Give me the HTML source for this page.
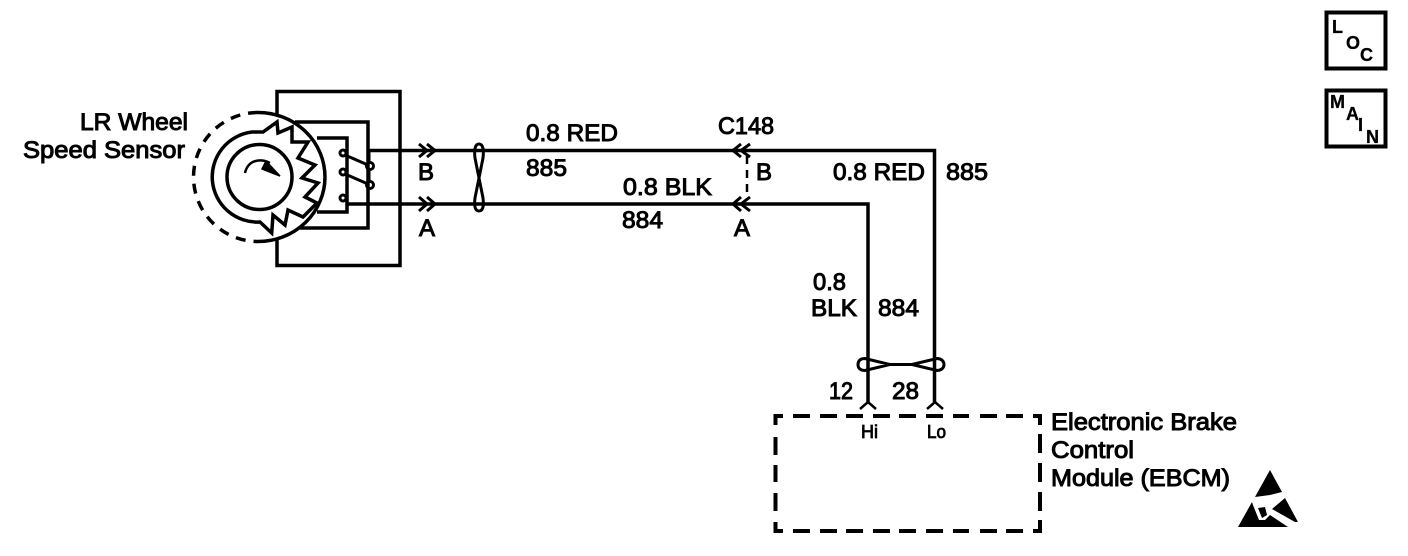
<!DOCTYPE html>
<html><head><meta charset="utf-8"><style>
html,body{margin:0;padding:0;background:#fff}
svg{display:block}
text{font-family:"Liberation Sans",sans-serif;font-size:24px;fill:#000;stroke:#000;stroke-width:1px}
.s{font-size:18px;stroke-width:.8px}
.n{font-size:18px;font-weight:bold;stroke-width:.3px}
</style></head><body>
<svg xmlns="http://www.w3.org/2000/svg" width="1408" height="556" viewBox="0 0 1408 556">
<g fill="none" stroke="#000" stroke-width="3.500">
<!-- sensor housing -->
<path d="M277 115V91.500H400V265.500H277V240"/>
<path d="M295 122H368V228H300"/>
<path d="M317 138H347V212H317"/>
<!-- circles -->
<path d="M258 112.500A67 64.500 0 0 1 258 241.500"/>
<path d="M258 112.500A64.500 64.500 0 0 0 258 241.500" stroke-dasharray="10 8"/>
<circle cx="259.500" cy="177" r="32.500"/>
<path d="M252 132A45.200 45.200 0 0 0 260 222L271.700 233L273 215L285 225L288 210L303 217L317 203L305 197L318 183L302 178L315 165L298 158L308 142L292 142L292 127L278 133L277 122L263 132Z"/>
<path d="M245 173C248 160 260 158 270 163" stroke-width="2.500"/>
<path d="M266 161L280 176L262 169Z" fill="#000" stroke-width="1.500"/>
<!-- coil -->
<circle cx="343" cy="153" r="3" stroke-width="3"/>
<circle cx="343" cy="172" r="3" stroke-width="3"/>
<circle cx="343" cy="198" r="3" stroke-width="3"/>
<circle cx="370" cy="166" r="3.500" stroke-width="3"/>
<circle cx="370" cy="185" r="3.500" stroke-width="3"/>
<path d="M345 155L368 165M345 174L368 184" stroke-width="3"/>
<path d="M369 150V162M369 170V181" stroke-width="3"/>
<!-- wires -->
<path d="M368 150.500H934.500V402" stroke-width="3.500"/>
<path d="M347 204H868V402" stroke-width="3.500"/>
<path d="M747 156V200" stroke-width="2.500" stroke-dasharray="8 6"/>
<!-- connector chevrons -->
<path d="M419 144L427 150.500L419 157M427 144L435 150.500L427 157" stroke-width="3"/>
<path d="M419 197L427 204L419 211M427 197L435 204L427 211" stroke-width="3"/>
<path d="M741 144L733 150.500L741 157M750 144L741 150.500L750 157" stroke-width="3"/>
<path d="M741 197L733 204L741 211M750 197L741 204L750 211" stroke-width="3"/>
<!-- twists -->
<path d="M479 144C475 144 474 150 475 158L479 178L475 198C474 206 475 211 479 211C483 211 484 206 483 198L479 178L483 158C484 150 483 144 479 144Z" stroke-width="3"/>
<path d="M865 358.500C860 358.500 858 361 858 364.500C858 368 860 370.500 865 370.500L890 364.500L912 364.500L937 370.500C941 370.500 944 368 944 364.500C944 361 941 358.500 937 358.500L912 364.500L890 364.500Z" stroke-width="3"/>
<!-- pin forks -->
<path d="M860 409L868 402L876 409M927 409L935 402L943 409" stroke-width="2.500"/>
<!-- EBCM dashed -->
<g stroke-width="4">
<path d="M783 416H775.500V425M775.500 437V455M775.500 465V482M775.500 493V511M775.500 522V531H783"/>
<path d="M1033 416H1040V425M1040 434V453M1040 463V482M1040 492V511M1040 520V531H1033"/>
<path d="M793 416H810M820 416H837M846 416H863M873 416H890M899 416H916M926 416H943M953 416H969M980 416H997M1006 416H1023"/>
<path d="M793 531H810M820 531H837M846 531H863M873 531H890M899 531H916M926 531H943M953 531H969M980 531H997M1006 531H1023"/>
</g>
<!-- icons -->
<rect x="1326.500" y="12.500" width="59" height="56" stroke-width="4"/>
<rect x="1326.500" y="90.500" width="59" height="56" stroke-width="4"/>
</g>
<text x="80" y="130" textLength="108" lengthAdjust="spacingAndGlyphs">LR Wheel</text>
<text x="23" y="158" textLength="162" lengthAdjust="spacingAndGlyphs">Speed Sensor</text>
<text x="418" y="180">B</text>
<text x="419" y="236">A</text>
<text x="526" y="141" textLength="92" lengthAdjust="spacingAndGlyphs">0.8 RED</text>
<text x="526" y="176" textLength="41" lengthAdjust="spacingAndGlyphs">885</text>
<text x="718" y="134" textLength="56" lengthAdjust="spacingAndGlyphs">C148</text>
<text x="623" y="195" textLength="89" lengthAdjust="spacingAndGlyphs">0.8 BLK</text>
<text x="622" y="228" textLength="41" lengthAdjust="spacingAndGlyphs">884</text>
<text x="756" y="180">B</text>
<text x="734" y="236">A</text>
<text x="833" y="180" textLength="92" lengthAdjust="spacingAndGlyphs">0.8 RED</text>
<text x="946" y="180" textLength="42" lengthAdjust="spacingAndGlyphs">885</text>
<text x="813" y="290" textLength="33" lengthAdjust="spacingAndGlyphs">0.8</text>
<text x="811" y="316" textLength="46" lengthAdjust="spacingAndGlyphs">BLK</text>
<text x="878" y="316" textLength="41" lengthAdjust="spacingAndGlyphs">884</text>
<text x="829" y="399" textLength="24" lengthAdjust="spacingAndGlyphs">12</text>
<text x="892" y="399" textLength="27" lengthAdjust="spacingAndGlyphs">28</text>
<text class="s" x="861" y="438" textLength="17" lengthAdjust="spacingAndGlyphs">Hi</text>
<text class="s" x="927" y="438" textLength="19" lengthAdjust="spacingAndGlyphs">Lo</text>
<text x="1051" y="430" textLength="186" lengthAdjust="spacingAndGlyphs">Electronic Brake</text>
<text x="1051" y="458" textLength="83" lengthAdjust="spacingAndGlyphs">Control</text>
<text x="1051" y="486" textLength="179" lengthAdjust="spacingAndGlyphs">Module (EBCM)</text>
<text class="n" x="1332" y="33">L</text>
<text class="n" x="1346" y="49">O</text>
<text class="n" x="1360" y="61">C</text>
<text class="n" x="1330" y="108">M</text>
<text class="n" x="1346" y="120">A</text>
<text class="n" x="1358" y="131">I</text>
<text class="n" x="1366" y="143">N</text>
<!-- ESD symbol -->
<path d="M1270 470L1282 492L1270 495L1255 497Z" fill="#000"/>
<path d="M1252 502L1238 527H1288L1270 515L1265 520H1259L1253 505Z" fill="#000"/>
<path d="M1285 498L1298 522H1295L1272 509Z" fill="#000"/>
<path d="M1258 508L1265 507L1267 515L1262 518Z" fill="#000"/>
</svg>
</body></html>
